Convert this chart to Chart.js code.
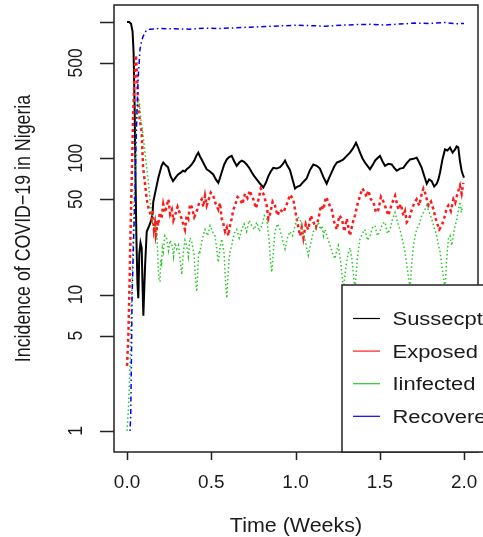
<!DOCTYPE html>
<html>
<head>
<meta charset="utf-8">
<script src="https://cdn.jsdelivr.net/npm/chart.js@4.4.1/dist/chart.umd.min.js"></script>
<style>
  html, body { margin: 0; padding: 0; background: #fff; }
  #wrap { width: 483px; height: 537px; }
</style>
</head>
<body>
<div id="wrap"><canvas id="plot" width="483" height="537"></canvas></div>
<script>
// values (time in weeks, incidence on a log axis)
const susWeeks = [0, 0.012, 0.024, 0.033, 0.039, 0.045, 0.050, 0.056, 0.062, 0.067, 0.073, 0.080, 0.087, 0.092, 0.097,
  0.107, 0.117, 0.132, 0.147, 0.152, 0.156, 0.166, 0.176, 0.186, 0.196, 0.205, 0.215, 0.229, 0.243, 0.258, 0.273,
  0.288, 0.303, 0.317, 0.332, 0.344, 0.354, 0.369, 0.384, 0.399, 0.411, 0.423, 0.433, 0.443, 0.458, 0.473, 0.492,
  0.512, 0.527, 0.542, 0.552, 0.562, 0.577, 0.592, 0.606, 0.621, 0.636, 0.651, 0.666, 0.681, 0.695, 0.710, 0.725,
  0.740, 0.755, 0.770, 0.790, 0.809, 0.824, 0.839, 0.853, 0.868, 0.888, 0.908, 0.923, 0.938, 0.952, 0.967, 0.982,
  0.997, 1.012, 1.027, 1.046, 1.066, 1.086, 1.106, 1.126, 1.145, 1.165, 1.185, 1.200, 1.215, 1.230, 1.245, 1.264,
  1.284, 1.304, 1.323, 1.341, 1.359, 1.371, 1.383, 1.397, 1.412, 1.427, 1.442, 1.457, 1.472, 1.486, 1.501, 1.516,
  1.531, 1.551, 1.571, 1.586, 1.601, 1.620, 1.640, 1.660, 1.680, 1.700, 1.719, 1.734, 1.749, 1.764, 1.779, 1.793,
  1.808, 1.823, 1.838, 1.848, 1.858, 1.872, 1.887, 1.902, 1.917, 1.932, 1.947, 1.956, 1.966, 1.976, 1.986, 1.993,
  2.000];
const susCases = [1000, 998, 970, 850, 600, 250, 80, 25, 12, 9.4, 20, 24, 22, 12, 7,
  16, 29, 32, 36, 40, 48, 55, 63, 72, 80, 88, 93, 89, 86, 74, 68,
  72, 76, 78, 81, 80, 83, 86, 90, 96, 104, 110, 103, 98, 90, 83, 80,
  76, 70, 66, 72, 79, 90, 98, 102, 104, 95, 88, 93, 96, 94, 90, 85,
  79, 74, 70, 65, 61, 66, 74, 80, 85, 84, 86, 90, 96, 88, 82, 70,
  60, 62, 63, 67, 71, 82, 90, 88, 84, 73, 65, 72, 79, 87, 93, 95,
  98, 104, 110, 118, 130, 120, 110, 100, 93, 88, 83, 89, 96, 100, 104, 95,
  88, 91, 90, 85, 81, 84, 85, 92, 98, 99, 101, 93, 85, 74, 65, 70,
  68, 62, 65, 70, 79, 98, 116, 114, 120, 110, 116, 122, 120, 95, 81, 76,
  72];

const expWeeks = [0, 0.008, 0.015, 0.021, 0.030, 0.036, 0.045, 0.053, 0.059, 0.065, 0.074, 0.087, 0.095, 0.107,
  0.117, 0.128, 0.136, 0.147, 0.151, 0.154, 0.160, 0.166, 0.171, 0.176, 0.180, 0.184, 0.195, 0.205, 0.215, 0.226,
  0.236, 0.246, 0.256, 0.266, 0.275, 0.285, 0.300, 0.315, 0.330, 0.344, 0.354, 0.364, 0.374, 0.384, 0.399, 0.414,
  0.428, 0.443, 0.453, 0.463, 0.473, 0.483, 0.497, 0.512, 0.527, 0.542, 0.552, 0.562, 0.572, 0.582, 0.592, 0.601,
  0.611, 0.621, 0.631, 0.641, 0.656, 0.671, 0.685, 0.700, 0.715, 0.730, 0.740, 0.750, 0.765, 0.779, 0.794, 0.809,
  0.819, 0.829, 0.839, 0.849, 0.864, 0.878, 0.893, 0.908, 0.928, 0.948, 0.968, 0.987, 0.997, 1.007, 1.017, 1.027,
  1.037, 1.047, 1.061, 1.076, 1.091, 1.106, 1.121, 1.136, 1.151, 1.166, 1.180, 1.195, 1.205, 1.215, 1.230, 1.245,
  1.260, 1.275, 1.290, 1.304, 1.314, 1.323, 1.338, 1.353, 1.368, 1.383, 1.397, 1.412, 1.422, 1.432, 1.447, 1.462,
  1.477, 1.492, 1.507, 1.522, 1.536, 1.551, 1.571, 1.591, 1.601, 1.611, 1.625, 1.640, 1.650, 1.660, 1.675, 1.690,
  1.705, 1.719, 1.734, 1.749, 1.759, 1.769, 1.779, 1.789, 1.804, 1.819, 1.829, 1.838, 1.853, 1.868, 1.878, 1.887,
  1.897, 1.907, 1.922, 1.937, 1.948, 1.958, 1.967, 1.976, 1.986, 1.996];
const expCases = [3.0, 5, 12, 29, 90, 200, 400, 570, 420, 270, 200, 155, 87, 65,
  50, 43, 40, 36, 42, 38, 30, 33, 27, 29, 35, 32, 40, 36, 46, 40,
  45, 50, 39, 42, 35, 38, 44, 39, 34, 30, 38, 36, 46, 44, 37, 41,
  47, 50, 44, 53, 45, 49, 56, 53, 46, 42, 47, 36, 33, 29, 31, 27,
  32, 36, 42, 45, 52, 50, 46, 55, 51, 58, 52, 50, 43, 49, 60, 55,
  50, 45, 36, 39, 48, 45, 38, 42, 40, 46, 54, 50, 42, 36, 31, 27,
  31, 26, 33, 30, 38, 34, 31, 36, 45, 42, 52, 48, 44, 42, 34, 30,
  38, 36, 29, 36, 31, 27, 33, 38, 46, 53, 60, 56, 52, 58, 50, 48,
  40, 42, 52, 48, 43, 38, 46, 53, 47, 42, 46, 38, 41, 34, 36, 42,
  47, 50, 45, 55, 60, 56, 50, 45, 48, 42, 37, 34, 30, 32, 35, 38,
  43, 45, 41, 50, 47, 53, 58, 63, 55, 66];

const infWeeks = [0, 0.009, 0.018, 0.022, 0.030, 0.039, 0.047, 0.056, 0.065, 0.074, 0.083, 0.095, 0.110, 0.125,
  0.136, 0.147, 0.160, 0.176, 0.181, 0.185, 0.190, 0.196, 0.200, 0.205, 0.210, 0.215, 0.225, 0.236, 0.246, 0.256,
  0.266, 0.276, 0.285, 0.295, 0.305, 0.315, 0.320, 0.325, 0.330, 0.334, 0.344, 0.354, 0.364, 0.374, 0.384, 0.391,
  0.398, 0.405, 0.414, 0.420, 0.426, 0.433, 0.448, 0.463, 0.478, 0.493, 0.507, 0.522, 0.532, 0.542, 0.552, 0.562,
  0.569, 0.576, 0.584, 0.592, 0.598, 0.605, 0.613, 0.621, 0.636, 0.651, 0.666, 0.681, 0.695, 0.710, 0.725, 0.740,
  0.755, 0.770, 0.785, 0.800, 0.815, 0.829, 0.836, 0.843, 0.851, 0.859, 0.868, 0.878, 0.893, 0.908, 0.923, 0.938,
  0.952, 0.967, 0.982, 0.997, 1.012, 1.027, 1.041, 1.056, 1.066, 1.076, 1.091, 1.106, 1.121, 1.136, 1.147, 1.157,
  1.166, 1.175, 1.190, 1.205, 1.220, 1.234, 1.244, 1.254, 1.269, 1.284, 1.299, 1.314, 1.324, 1.334, 1.344, 1.353,
  1.368, 1.383, 1.397, 1.412, 1.427, 1.442, 1.457, 1.472, 1.486, 1.501, 1.516, 1.531, 1.546, 1.561, 1.576, 1.591,
  1.605, 1.620, 1.635, 1.650, 1.665, 1.680, 1.690, 1.700, 1.710, 1.719, 1.734, 1.749, 1.764, 1.779, 1.794, 1.808,
  1.823, 1.838, 1.848, 1.858, 1.872, 1.887, 1.897, 1.907, 1.917, 1.927, 1.942, 1.958, 1.967, 1.976, 1.984, 1.992];
const infCases = [1.0, 1.5, 3, 5.4, 12, 35, 88, 180, 270, 250, 190, 150, 100, 70,
  50, 40, 33, 29, 22, 15.5, 13, 12.4, 18, 17, 22, 20.5, 27, 25.6, 21, 25,
  23.5, 19, 24, 21.6, 23, 18, 16, 14, 17, 20.5, 25, 22.9, 19, 26, 24.4, 22,
  20, 14, 10.5, 15, 21, 20.5, 26, 30, 27, 32, 29, 27, 22, 17.3, 22, 25.6,
  23, 20, 13, 9.4, 13, 18, 21, 22.9, 28, 30, 26, 30, 33, 29, 35, 32,
  30, 34, 29, 32, 38, 36, 30, 25, 18, 14.6, 20, 29, 33, 30, 25, 21.6,
  26, 29, 27, 32, 37, 36, 30, 25.6, 22, 19.4, 24, 29, 31, 34, 30, 32,
  27, 30, 26, 22.9, 20, 18.3, 21, 22.9, 17, 11, 16, 20.5, 22, 18.3, 14, 11,
  19, 25.6, 28, 30, 25, 27, 31, 32, 27, 29, 33, 34, 28, 30, 36, 40,
  34, 30, 25, 20.5, 15, 11, 17, 22.9, 27, 30, 33, 38, 41, 45, 40, 36,
  31, 27, 23, 20.5, 15, 11, 18, 25.6, 27, 22.9, 30, 36, 42, 48, 40, 45];

const recWeeks = [0.018, 0.022, 0.027, 0.030, 0.039, 0.047, 0.053, 0.058, 0.065, 0.077, 0.086, 0.095, 0.113,
  0.136, 0.196, 0.285, 0.374, 0.463, 0.552, 0.641, 0.730, 0.819, 0.908, 0.997, 1.086, 1.175, 1.264, 1.353,
  1.442, 1.531, 1.620, 1.709, 1.798, 1.887, 1.947, 2.000];
const recCases = [1.0, 1.3, 4, 9.4, 25, 50, 120, 200, 360, 630, 720, 780, 860,
  885, 895, 890, 885, 900, 895, 905, 915, 925, 935, 945, 940, 930, 945, 955,
  960, 950, 965, 980, 975, 990, 970, 975];

const yTicks = [1, 5, 10, 50, 100, 500, 1000];
const yTickLabels = ["1", "5", "10", "50", "100", "500", ""];
const xTicks = [0, 0.5, 1, 1.5, 2];
const xTickLabels = ["0.0", "0.5", "1.0", "1.5", "2.0"];
const legendLabels = ["Sussecptible", "Exposed", "Iinfected", "Recovered"];

const FONT = "'Liberation Sans', Arial, sans-serif";

function pairs(ts, vs) {
  return ts.map((t, i) => ({ x: t, y: vs[i] }));
}

// text with a slight horizontal stretch, like the source image
function stretchText(ctx, s, x, y, size, sx, align, rotated) {
  ctx.save();
  ctx.translate(x, y);
  ctx.scale(sx, 1);
  if (rotated) ctx.rotate(-Math.PI / 2);
  ctx.font = size + "px " + FONT;
  ctx.textAlign = align;
  ctx.textBaseline = "alphabetic";
  ctx.fillStyle = "#1a1a1a";
  ctx.fillText(s, 0, 0);
  ctx.restore();
}

const rFrame = {
  id: "rFrame",
  afterDraw(chart) {
    const ctx = chart.ctx;
    const a = chart.chartArea;
    const xs = chart.scales.x, ys = chart.scales.y;

    ctx.save();
    ctx.strokeStyle = "#222";
    ctx.lineWidth = 1.5;
    ctx.strokeRect(a.left, a.top, a.right - a.left, a.bottom - a.top);

    // y axis ticks, x axis ticks
    ctx.beginPath();
    yTicks.forEach(v => {
      const py = Math.round(ys.getPixelForValue(v)) + 0.5;
      ctx.moveTo(a.left - 14, py);
      ctx.lineTo(a.left, py);
    });
    xTicks.forEach(v => {
      const px = Math.round(xs.getPixelForValue(v)) + 0.5;
      ctx.moveTo(px, a.bottom);
      ctx.lineTo(px, a.bottom + 8);
    });
    ctx.stroke();
    ctx.restore();

    yTicks.forEach((v, i) => {
      if (!yTickLabels[i]) return;
      stretchText(ctx, yTickLabels[i], 82, ys.getPixelForValue(v), 17.5, 1.2, "center", true);
    });
    xTicks.forEach((v, i) => {
      stretchText(ctx, xTickLabels[i], xs.getPixelForValue(v), 488, 18, 1.05, "center", false);
    });

    stretchText(ctx, "Time (Weeks)", (a.left + a.right) / 2, 532, 19.5, 1.1, "center", false);
    stretchText(ctx, "Incidence of COVID\u221219 in Nigeria", 30, (a.top + a.bottom) / 2, 17.8, 1.2, "center", true);

    // legend box (runs past the right edge of the picture)
    const lx = 342, ly = 285;
    ctx.save();
    ctx.fillStyle = "#fff";
    ctx.fillRect(lx, ly, 300, a.bottom - ly);
    ctx.strokeStyle = "#222";
    ctx.lineWidth = 1.5;
    ctx.strokeRect(lx, ly, 300, a.bottom - ly);
    const colors = chart.data.datasets.map(d => d.borderColor);
    legendLabels.forEach((lab, i) => {
      const yy = 318.5 + i * 32.6;
      ctx.strokeStyle = colors[i];
      ctx.lineWidth = 1.2;
      ctx.setLineDash([]);
      ctx.beginPath();
      ctx.moveTo(353, yy);
      ctx.lineTo(380, yy);
      ctx.stroke();
      stretchText(ctx, lab, 392.5, yy + 6.5, 18, 1.22, "left", false);
    });
    ctx.restore();
  }
};

new Chart(document.getElementById("plot"), {
  type: "line",
  data: {
    datasets: [
      { label: legendLabels[0], data: pairs(susWeeks, susCases), borderColor: "#000000",
        borderWidth: 2, order: 4 },
      { label: legendLabels[1], data: pairs(expWeeks, expCases), borderColor: "#ff1a1a",
        borderWidth: 2.5, borderDash: [3, 3], order: 3 },
      { label: legendLabels[2], data: pairs(infWeeks, infCases), borderColor: "#28c828",
        borderWidth: 1.5, borderDash: [1.5, 2.5], order: 2 },
      { label: legendLabels[3], data: pairs(recWeeks, recCases), borderColor: "#0000ff",
        borderWidth: 1.5, borderDash: [1.5, 3, 5, 3], order: 1 }
    ]
  },
  options: {
    responsive: false,
    animation: false,
    layout: { padding: { left: 114, right: 5, top: 5, bottom: 85 } },
    elements: { point: { radius: 0 }, line: { tension: 0 } },
    scales: {
      x: { type: "linear", min: -0.0772, max: 2.083, display: false },
      y: { type: "logarithmic", min: 0.727, max: 1331, display: false }
    },
    plugins: {
      legend: { display: false },
      tooltip: { enabled: false }
    }
  },
  plugins: [rFrame]
});
</script>
</body>
</html>
